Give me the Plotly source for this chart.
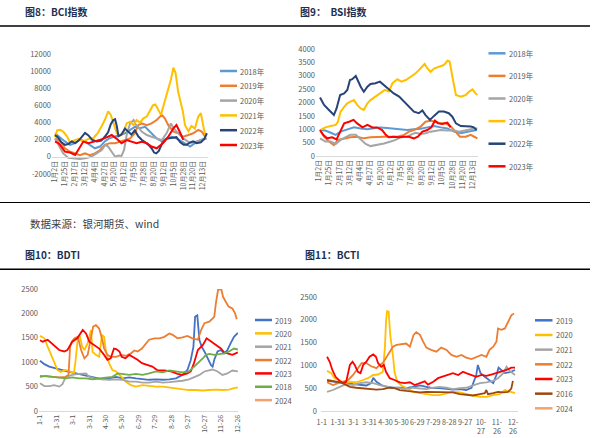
import plotly.graph_objects as go

W, H = 592, 438


def px(x):
    return x / W


def py(y):
    return 1 - y / H


FONT = "Noto Sans CJK SC, Noto Sans, sans-serif"
TICK_COLOR = "#595959"
TITLE_COLOR = "#1c2f52"

# ---------------- 图8 BCI ----------------
bci_ticktext = ["1月2日", "1月25日", "2月17日", "3月12日", "4月4日", "4月27日", "5月20日", "6月12日",
                "7月5日", "7月28日", "8月20日", "9月12日", "10月5日", "10月28日", "11月20日", "12月13日"]
bci_tickvals = [0, 23, 46, 69, 92, 115, 138, 161, 184, 207, 230, 253, 276, 299, 322, 345]
bci_yticks = [-2000, 0, 2000, 4000, 6000, 8000, 10000, 12000]

bci_2018_x = [0, 12, 23, 35, 47, 58, 70, 81, 93, 105, 116, 128, 140, 152, 163, 175, 186, 198, 210, 218, 225, 237, 249, 260, 272, 283, 295, 307, 315, 326, 338, 350]
bci_2018_y = [2750, 2200, 1800, 1400, 1600, 2000, 1800, 1400, 1000, 1200, 1800, 2200, 2350, 2550, 2750, 3150, 3500, 3350, 3500, 3100, 2750, 2150, 1800, 2150, 2350, 2150, 1800, 1400, 1200, 1600, 1950, 2150]
bci_2019_x = [0, 12, 23, 35, 47, 58, 70, 81, 93, 105, 116, 128, 140, 152, 163, 175, 186, 194, 202, 214, 225, 237, 249, 256, 264, 276, 287, 299, 311, 322, 334, 342, 350]
bci_2019_y = [2150, 1800, 1000, 600, 400, 200, 400, 200, 400, 800, 1400, 1600, 1600, 1800, 1950, 2150, 2750, 3700, 3900, 3700, 3900, 4300, 4900, 4500, 3700, 2950, 2750, 2350, 2550, 2750, 3150, 2950, 2350]
bci_2020_x = [0, 8, 19, 31, 43, 58, 74, 85, 97, 109, 117, 124, 132, 140, 148, 155, 161, 167, 175, 183, 189, 194, 202, 214, 225, 237, 249, 260, 270, 277, 287, 299, 315, 330, 342, 354]
bci_2020_y = [2150, 1400, 400, -100, -150, -250, -150, 20, 400, 800, 1400, 1200, 600, 20, 150, 100, 800, 2550, 3900, 4300, 3700, 3500, 2950, 2550, 2350, 2150, 1950, 2750, 3900, 3300, 2750, 2150, 1600, 1800, 1950, 2150]
bci_2021_x = [0, 5, 12, 20, 28, 35, 43, 55, 66, 78, 90, 100, 108, 116, 124, 130, 136, 144, 152, 160, 167, 175, 183, 190, 198, 206, 214, 222, 228, 234, 240, 247, 253, 258, 264, 270, 276, 281, 287, 292, 298, 303, 311, 318, 326, 334, 340, 346, 350, 354]
bci_2021_y = [2300, 3100, 3150, 2900, 2400, 1700, 1900, 2100, 1800, 2100, 2200, 2800, 3500, 4300, 5300, 4900, 4000, 2750, 2500, 2900, 3900, 4100, 3700, 4300, 4000, 4500, 4700, 5400, 6000, 6100, 5600, 4900, 6000, 6800, 8000, 9000, 10400, 9800, 7600, 6500, 5300, 3700, 3000, 3600, 3300, 4700, 5100, 3500, 2600, 2500]
bci_2022_x = [0, 8, 15, 23, 31, 39, 47, 55, 62, 70, 78, 86, 97, 108, 117, 124, 130, 136, 140, 144, 148, 155, 163, 171, 178, 186, 194, 202, 210, 218, 225, 231, 236, 242, 250, 260, 270, 283, 292, 300, 307, 315, 322, 330, 340, 348, 354]
bci_2022_y = [2550, 2200, 1700, 1400, 1500, 1800, 1600, 1900, 2300, 2800, 2500, 2000, 1800, 1900, 2400, 2900, 3800, 4300, 4400, 3600, 2400, 2600, 3300, 2900, 2600, 3100, 2400, 2000, 1700, 1400, 1000, 500, 400, 700, 1600, 2100, 2200, 2300, 1700, 1400, 1400, 1700, 1800, 1600, 1700, 2100, 2750]
bci_2023_x = [0, 8, 12, 23, 35, 47, 54, 66, 78, 89, 101, 112, 124, 132, 144, 155, 167, 179, 190, 202, 214, 225, 237, 252, 264, 276, 283, 291, 299]
bci_2023_y = [1780, 1600, 1390, 610, 500, 220, 800, 1780, 1600, 1750, 1900, 2100, 2350, 2550, 2100, 1580, 1950, 1750, 1600, 1750, 1600, 1200, 1000, 1600, 2350, 3330, 3720, 2900, 1970]

bci_names = ["2018年", "2019年", "2020年", "2021年", "2022年", "2023年"]
bci_colors = ["#5B9BD5", "#ED7D31", "#A5A5A5", "#FFC000", "#264478", "#FF0000"]
bci_data = [(bci_2018_x, bci_2018_y), (bci_2019_x, bci_2019_y), (bci_2020_x, bci_2020_y),
            (bci_2021_x, bci_2021_y), (bci_2022_x, bci_2022_y), (bci_2023_x, bci_2023_y)]

# ---------------- 图9 BSI ----------------
bsi_yticks = [0, 500, 1000, 1500, 2000, 2500, 3000, 3500, 4000]
bsi_2018_x = [3, 15, 27, 38, 49, 64, 79, 94, 109, 127, 138, 153, 168, 183, 198, 213, 228, 243, 258, 273, 288, 303, 318, 333, 348, 354]
bsi_2018_y = [970, 950, 870, 790, 910, 1000, 1070, 1030, 1000, 1050, 1070, 1050, 1030, 1000, 970, 1000, 1020, 1070, 1120, 1070, 1030, 910, 850, 910, 950, 970]
bsi_2019_x = [3, 12, 23, 34, 43, 57, 71, 86, 101, 116, 131, 146, 161, 176, 191, 202, 213, 228, 239, 250, 262, 273, 284, 295, 306, 316, 329, 340, 348, 355]
bsi_2019_y = [970, 720, 540, 410, 600, 660, 700, 720, 660, 700, 720, 720, 720, 720, 790, 910, 970, 1100, 1280, 1320, 1280, 1220, 1220, 1120, 910, 720, 720, 790, 720, 660]
bsi_2020_x = [3, 15, 27, 38, 49, 60, 71, 83, 94, 105, 116, 131, 146, 161, 172, 183, 198, 209, 217, 228, 239, 250, 262, 273, 288, 303, 314, 325, 336, 348, 355]
bsi_2020_y = [660, 540, 540, 450, 600, 700, 790, 790, 620, 450, 370, 410, 470, 540, 600, 700, 720, 820, 870, 820, 850, 910, 950, 970, 950, 950, 910, 950, 970, 1030, 1030]
bsi_2021_x = [3, 15, 27, 38, 43, 49, 57, 64, 71, 79, 86, 94, 101, 109, 116, 127, 138, 148, 157, 165, 176, 185, 195, 206, 217, 228, 237, 243, 250, 259, 271, 280, 288, 293, 299, 307, 318, 329, 336, 344, 351, 355]
bsi_2021_y = [970, 1070, 1120, 1160, 1280, 1660, 1840, 1970, 2030, 2090, 1910, 1780, 1720, 1970, 2090, 2220, 2370, 2470, 2410, 2720, 2870, 2780, 2840, 2970, 3090, 3280, 3440, 3280, 3150, 3280, 3340, 3400, 3560, 3530, 2970, 2280, 2220, 2280, 2400, 2490, 2340, 2280]
bsi_2022_x = [3, 12, 23, 34, 40, 48, 57, 64, 70, 75, 83, 88, 94, 101, 109, 116, 127, 137, 146, 157, 168, 180, 191, 202, 213, 224, 232, 239, 249, 258, 269, 280, 291, 299, 307, 318, 329, 340, 347, 353]
bsi_2022_y = [2190, 1910, 1720, 1530, 1780, 2280, 2340, 2470, 2840, 2870, 2990, 2780, 2590, 2400, 2590, 2690, 2720, 2780, 2650, 2470, 2340, 2220, 2030, 1840, 1660, 1600, 1700, 1530, 1350, 1500, 1660, 1660, 1600, 1470, 1220, 1120, 1120, 1100, 1070, 970]
bsi_2023_x = [3, 10, 19, 30, 40, 48, 57, 68, 78, 86, 98, 109, 120, 131, 142, 150, 157, 168, 180, 191, 202, 213, 222, 232, 243, 252, 260, 267, 277, 288, 295]
bsi_2023_y = [970, 790, 660, 700, 620, 910, 1220, 1280, 1350, 1220, 1070, 1160, 1070, 1070, 970, 790, 700, 720, 700, 720, 720, 660, 720, 910, 970, 1070, 1320, 1220, 1200, 1250, 1070]

bsi_data = [(bsi_2018_x, bsi_2018_y), (bsi_2019_x, bsi_2019_y), (bsi_2020_x, bsi_2020_y),
            (bsi_2021_x, bsi_2021_y), (bsi_2022_x, bsi_2022_y), (bsi_2023_x, bsi_2023_y)]

# ---------------- 图10 BDTI ----------------
dt_tickvals = [0, 30, 60, 90, 120, 150, 180, 210, 240, 270, 300, 330, 360]
bdti_ticktext = ["1-1", "1-31", "3-1", "3-31", "4-30", "5-30", "6-29", "7-29", "8-28", "9-27", "10-27", "11-26", "12-26"]
bcti_ticktext = ["1-1", "1-31", "3-1", "3-31", "4-30", "5-30", "6-29", "7-29", "8-28", "9-27", "10-<br>27", "11-<br>26", "12-<br>26"]
dt_yticks = [0, 500, 1000, 1500, 2000, 2500]

bdti_2019_x = [0, 8, 17, 29, 41, 53, 66, 78, 90, 102, 114, 126, 139, 151, 163, 175, 187, 199, 212, 224, 236, 248, 260, 269, 275, 280, 283, 287, 291, 295, 300, 306, 312, 315, 318, 324, 330, 336, 342, 348, 354, 361]
bdti_2019_y = [1030, 960, 910, 870, 840, 800, 770, 740, 700, 670, 650, 670, 700, 670, 690, 670, 650, 640, 650, 640, 650, 670, 740, 840, 1040, 1320, 1930, 1960, 1450, 1320, 1220, 1080, 940, 910, 1050, 1220, 1250, 1180, 1250, 1390, 1520, 1600]
bdti_2020_x = [0, 8, 14, 20, 26, 32, 38, 47, 56, 62, 65, 69, 73, 77, 81, 87, 93, 96, 102, 108, 113, 117, 120, 126, 132, 139, 145, 151, 157, 166, 175, 187, 199, 212, 224, 236, 248, 260, 272, 284, 297, 309, 321, 333, 345, 357, 361]
bdti_2020_y = [1540, 1490, 1320, 1150, 980, 840, 800, 840, 800, 780, 1040, 1490, 1520, 1320, 1250, 1390, 1660, 1210, 1150, 1110, 1560, 1520, 1250, 980, 840, 810, 740, 670, 600, 530, 500, 530, 510, 500, 500, 480, 460, 440, 430, 430, 420, 430, 440, 430, 440, 480, 480]
bdti_2021_x = [0, 8, 17, 26, 35, 41, 47, 59, 71, 84, 90, 99, 114, 126, 139, 151, 163, 175, 187, 199, 212, 224, 236, 248, 260, 272, 281, 291, 300, 309, 315, 324, 333, 342, 351, 361]
bdti_2021_y = [570, 510, 510, 530, 500, 550, 700, 740, 760, 770, 700, 670, 650, 640, 650, 640, 600, 600, 580, 580, 600, 580, 590, 600, 620, 650, 700, 740, 810, 830, 850, 810, 740, 770, 830, 810]
bdti_2022_x = [0, 17, 35, 47, 52, 55, 58, 63, 69, 75, 81, 87, 93, 97, 102, 108, 113, 117, 123, 129, 139, 148, 157, 166, 172, 178, 186, 193, 199, 209, 218, 227, 236, 242, 251, 260, 269, 278, 288, 294, 300, 309, 318, 321, 325, 331, 334, 339, 344, 351, 356, 359]
bdti_2022_y = [720, 700, 690, 700, 740, 1320, 1420, 1490, 1520, 1250, 1080, 1150, 1490, 1730, 1760, 1690, 1490, 1280, 1150, 1110, 1110, 1150, 1130, 1180, 1240, 1220, 1280, 1390, 1460, 1490, 1490, 1520, 1590, 1560, 1490, 1510, 1540, 1490, 1460, 1660, 1800, 1830, 1930, 2210, 2490, 2490, 2340, 2240, 2140, 2100, 2000, 1880]
bdti_2023_x = [0, 5, 14, 26, 35, 44, 50, 59, 68, 78, 84, 90, 99, 108, 117, 123, 129, 135, 139, 145, 149, 156, 163, 170, 178, 186, 196, 205, 215, 227, 239, 251, 260, 269, 275, 281, 288, 297, 304, 312, 321, 330, 336, 345, 351, 357, 361]
bdti_2023_y = [1450, 1420, 1460, 1350, 1250, 1220, 1250, 1420, 1490, 1660, 1590, 1420, 1350, 1280, 1150, 1050, 1080, 1280, 1270, 1220, 1110, 1080, 1150, 1110, 1050, 980, 940, 910, 830, 830, 810, 760, 740, 770, 810, 980, 1250, 1350, 1490, 1420, 1350, 1280, 1200, 1160, 1150, 1180, 1200]
bdti_2018_x = [0, 11, 23, 35, 47, 59, 71, 84, 96, 108, 120, 132, 142, 151, 163, 175, 187, 199, 212, 224, 236, 248, 260, 272, 281, 291, 297, 303, 309, 318, 327, 336, 345, 354, 361]
bdti_2018_y = [700, 720, 700, 690, 670, 690, 670, 670, 650, 670, 690, 700, 770, 760, 740, 760, 740, 770, 810, 790, 830, 810, 790, 810, 900, 1010, 1080, 1150, 1170, 1150, 1170, 1180, 1220, 1280, 1260]
bdti_2024_x = []
bdti_2024_y = []

bdti_names = ["2019", "2020", "2021", "2022", "2023", "2018", "2024"]
bdti_colors = ["#4472C4", "#FFC000", "#A5A5A5", "#ED7D31", "#FF0000", "#70AD47", "#F4A26B"]
bdti_data = [(bdti_2019_x, bdti_2019_y), (bdti_2020_x, bdti_2020_y), (bdti_2021_x, bdti_2021_y),
             (bdti_2022_x, bdti_2022_y), (bdti_2023_x, bdti_2023_y), (bdti_2018_x, bdti_2018_y),
             (bdti_2024_x, bdti_2024_y)]

# ---------------- 图11 BCTI ----------------
bcti_2019_x = [2, 13, 26, 38, 51, 64, 76, 85, 89, 95, 104, 114, 126, 139, 151, 164, 177, 189, 202, 214, 227, 239, 252, 264, 274, 283, 286, 291, 299, 308, 315, 321, 325, 330, 337, 346, 356]
bcti_2019_y = [660, 640, 630, 610, 590, 570, 560, 610, 730, 640, 570, 530, 510, 510, 500, 530, 560, 530, 500, 500, 480, 470, 480, 460, 510, 790, 1010, 830, 750, 680, 610, 790, 950, 900, 830, 850, 900]
bcti_2020_x = [2, 10, 16, 26, 35, 45, 57, 70, 79, 89, 98, 107, 111, 113, 115, 118, 121, 126, 129, 134, 142, 151, 164, 177, 189, 202, 214, 227, 239, 252, 264, 277, 290, 302, 315, 327, 337, 346, 356]
bcti_2020_y = [880, 830, 720, 660, 610, 640, 630, 680, 720, 790, 800, 860, 1400, 1960, 2190, 2180, 1670, 1230, 860, 640, 560, 510, 420, 390, 370, 350, 350, 390, 420, 410, 370, 340, 310, 310, 350, 370, 460, 420, 390]
bcti_2021_x = [2, 13, 26, 38, 51, 64, 76, 89, 101, 114, 126, 139, 151, 164, 177, 189, 202, 214, 227, 239, 252, 264, 277, 290, 302, 315, 324, 334, 340, 346, 356]
bcti_2021_y = [420, 460, 530, 590, 570, 610, 630, 610, 570, 530, 510, 500, 480, 510, 500, 480, 510, 530, 510, 480, 500, 510, 560, 610, 630, 660, 720, 830, 970, 880, 790]
bcti_2022_x = [2, 13, 23, 32, 42, 51, 60, 67, 76, 85, 95, 101, 107, 113, 121, 126, 133, 142, 151, 158, 165, 170, 177, 183, 189, 198, 208, 217, 227, 236, 246, 255, 264, 274, 283, 293, 302, 308, 315, 321, 324, 330, 337, 343, 349, 354]
bcti_2022_y = [630, 570, 610, 640, 680, 790, 940, 1050, 1050, 980, 940, 1010, 1050, 1160, 1300, 1410, 1450, 1460, 1480, 1410, 1670, 1730, 1670, 1520, 1390, 1340, 1300, 1390, 1340, 1230, 1190, 1230, 1170, 1140, 1190, 1230, 1190, 1340, 1410, 1520, 1810, 1780, 1810, 1960, 2100, 2140]
bcti_2023_x = [2, 7, 12, 18, 26, 32, 38, 45, 50, 54, 60, 65, 70, 76, 82, 89, 94, 98, 104, 109, 113, 120, 129, 139, 148, 158, 167, 177, 186, 192, 202, 211, 220, 230, 239, 249, 258, 264, 274, 283, 293, 302, 311, 321, 330, 340, 349, 356]
bcti_2023_y = [1190, 1080, 900, 750, 660, 610, 640, 1010, 1080, 1010, 860, 830, 1010, 1080, 1190, 1240, 1190, 1050, 970, 1010, 860, 720, 680, 630, 610, 630, 570, 610, 650, 580, 640, 720, 750, 790, 830, 790, 860, 830, 790, 750, 790, 770, 800, 830, 860, 900, 950, 950]
bcti_2016_x = [2, 13, 26, 35, 45, 57, 70, 82, 95, 107, 120, 129, 139, 151, 164, 177, 189, 202, 214, 227, 239, 252, 264, 277, 290, 299, 302, 305, 315, 324, 334, 343, 349, 352]
bcti_2016_y = [680, 660, 630, 590, 530, 510, 500, 480, 470, 480, 510, 500, 460, 440, 420, 410, 420, 420, 410, 420, 410, 370, 350, 340, 370, 390, 460, 370, 390, 420, 410, 420, 490, 660]
bcti_2024_x = []
bcti_2024_y = []

bcti_names = ["2019", "2020", "2021", "2022", "2023", "2016", "2024"]
bcti_colors = ["#4472C4", "#FFC000", "#A5A5A5", "#ED7D31", "#FF0000", "#9E480E", "#F4A26B"]
bcti_data = [(bcti_2019_x, bcti_2019_y), (bcti_2020_x, bcti_2020_y), (bcti_2021_x, bcti_2021_y),
             (bcti_2022_x, bcti_2022_y), (bcti_2023_x, bcti_2023_y), (bcti_2016_x, bcti_2016_y),
             (bcti_2024_x, bcti_2024_y)]

fig = go.Figure()


def add_series(names, colors, data, xa, ya, width):
    for n, c, (xs, ys) in zip(names, colors, data):
        fig.add_trace(go.Scatter(x=xs, y=ys, mode="lines", name=n,
                                 line=dict(color=c, width=width),
                                 xaxis=xa, yaxis=ya, showlegend=False, hoverinfo="skip"))


add_series(bci_names, bci_colors, bci_data, "x", "y", 2)
add_series(bci_names, bci_colors, bsi_data, "x2", "y2", 2)
add_series(bdti_names, bdti_colors, bdti_data, "x3", "y3", 1.8)
add_series(bcti_names, bcti_colors, bcti_data, "x4", "y4", 1.8)

shapes = []
annotations = []


def legend(names, colors, x0, x1, xt, y0, dy, lw, fs):
    for i, (n, c) in enumerate(zip(names, colors)):
        yy = y0 + i * dy
        shapes.append(dict(type="line", xref="paper", yref="paper", x0=px(x0), x1=px(x1),
                           y0=py(yy), y1=py(yy), line=dict(color=c, width=lw)))
        annotations.append(dict(text=n, x=px(xt), y=py(yy), xref="paper", yref="paper",
                                xanchor="left", yanchor="middle", showarrow=False,
                                font=dict(size=fs, color=TICK_COLOR, family=FONT)))


legend(bci_names, bci_colors, 220, 237, 238, 71, 14.8, 2.5, 7.5)
legend(bci_names, bci_colors, 488.5, 505.5, 506.5, 53.3, 22.6, 2.5, 7.5)
legend(bdti_names, bdti_colors, 255, 272, 273, 320, 13.35, 2.5, 7.5)
legend(bcti_names, bcti_colors, 535, 552.5, 553.5, 320.3, 14.67, 2.5, 7.5)

# separators
for yy, w in [(26, 1.5), (202.5, 1.2), (269.3, 1.5)]:
    shapes.append(dict(type="line", xref="paper", yref="paper", x0=0, x1=px(590),
                       y0=py(yy), y1=py(yy), line=dict(color="#000000", width=w)))


def title(text, x, y, size=10, color=TITLE_COLOR, bold=True):
    annotations.append(dict(text=("<b>%s</b>" % text) if bold else text, x=px(x), y=py(y),
                            xref="paper", yref="paper", xanchor="left", yanchor="middle",
                            showarrow=False, font=dict(size=size, color=color, family=FONT)))


title("图8：BCI指数", 23, 11)
title("图9：  BSI指数", 298, 11)
title("图10：BDTI", 23, 254.5)
title("图11：BCTI", 303, 254.5)
title("数据来源：银河期货、wind", 28, 223, size=10.5, color="#404040", bold=False)

tickfont = dict(size=7, color=TICK_COLOR, family=FONT)
ytickfont = dict(size=7.5, color=TICK_COLOR, family=FONT)
common = dict(showgrid=False, zeroline=False, ticks="", fixedrange=True, automargin=False)

fig.update_layout(
    width=W, height=H, autosize=False,
    margin=dict(l=0, r=0, t=0, b=0, autoexpand=False),
    paper_bgcolor="white", plot_bgcolor="white",
    showlegend=False,
    shapes=shapes, annotations=annotations,
    xaxis=dict(domain=[px(52), px(208)], range=[-7, 356.6], anchor="free", position=py(157),
               showline=True, linecolor="#D9D9D9", linewidth=1,
               tickmode="array", tickvals=bci_tickvals, ticktext=bci_ticktext, tickangle=-90,
               tickfont=tickfont, **common),
    yaxis=dict(domain=[py(174), py(54)], range=[-2000, 12000], anchor="x",
               tickmode="array", tickvals=bci_yticks, ticktext=[str(v) for v in bci_yticks],
               tickfont=ytickfont, **common),
    xaxis2=dict(domain=[px(316), px(478)], range=[-6, 356.4], anchor="y2",
                showline=True, linecolor="#D9D9D9", linewidth=1,
                tickmode="array", tickvals=bci_tickvals, ticktext=bci_ticktext, tickangle=-90,
                tickfont=tickfont, **common),
    yaxis2=dict(domain=[py(156), py(49)], range=[0, 4000], anchor="x2",
                tickmode="array", tickvals=bsi_yticks, ticktext=[str(v) for v in bsi_yticks],
                tickfont=ytickfont, **common),
    xaxis3=dict(domain=[px(39), px(238)], range=[-1.8, 361.3], anchor="y3",
                showline=True, linecolor="#D9D9D9", linewidth=1,
                tickmode="array", tickvals=dt_tickvals, ticktext=bdti_ticktext, tickangle=-90,
                tickfont=tickfont, **common),
    yaxis3=dict(domain=[py(411), py(289)], range=[0, 2500], anchor="x3",
                tickmode="array", tickvals=dt_yticks, ticktext=[str(v) for v in dt_yticks],
                tickfont=ytickfont, **common),
    xaxis4=dict(domain=[px(321), px(518)], range=[-9.4, 361.6], anchor="y4",
                showline=True, linecolor="#D9D9D9", linewidth=1,
                tickmode="array", tickvals=[v - 8 for v in dt_tickvals], ticktext=bcti_ticktext,
                tickangle=0, ticklabelstandoff=4,
                tickfont=dict(size=7.2, color=TICK_COLOR, family=FONT), **common),
    yaxis4=dict(domain=[py(411), py(297)], range=[0, 2500], anchor="x4",
                tickmode="array", tickvals=dt_yticks, ticktext=[str(v) for v in dt_yticks],
                tickfont=ytickfont, ticklabelstandoff=3, **common),
)

fig.write_html("out.html", config={"displayModeBar": False})

# remove the browser's default page margin so the figure sits at the window origin
with open("out.html", encoding="utf-8") as f:
    html = f.read()
html = html.replace("<head>", "<head><style>html,body{margin:0;padding:0;overflow:hidden;}</style>", 1)
with open("out.html", "w", encoding="utf-8") as f:
    f.write(html)
